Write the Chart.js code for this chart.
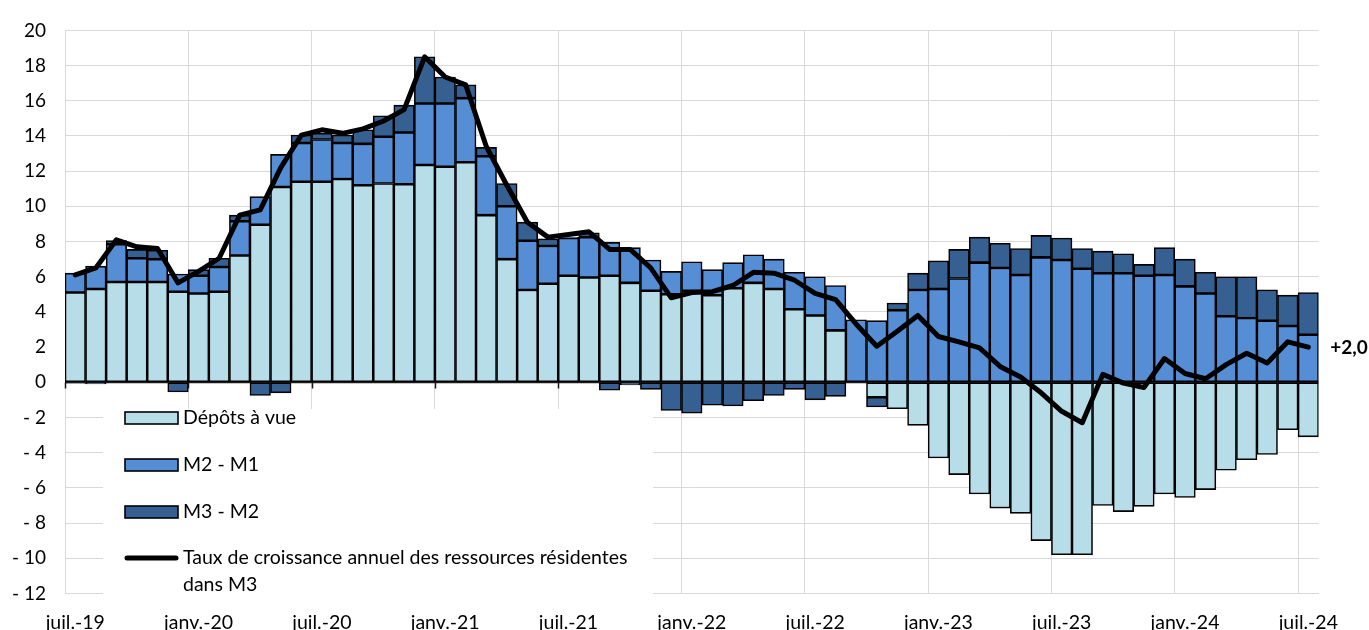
<!DOCTYPE html>
<html>
<head>
<meta charset="utf-8">
<script src="https://cdn.jsdelivr.net/npm/chart.js@4/dist/chart.umd.min.js"></script>
<style>
  html, body { margin: 0; padding: 0; background: #fff; }
  #wrap { width: 1369px; height: 630px; }
</style>
</head>
<body>
<div id="wrap"><canvas id="c" width="1369" height="630"></canvas></div>
<script>
const categories = [
  'juil.-19','août-19','sept.-19','oct.-19','nov.-19','déc.-19',
  'janv.-20','févr.-20','mars-20','avr.-20','mai-20','juin-20',
  'juil.-20','août-20','sept.-20','oct.-20','nov.-20','déc.-20',
  'janv.-21','févr.-21','mars-21','avr.-21','mai-21','juin-21',
  'juil.-21','août-21','sept.-21','oct.-21','nov.-21','déc.-21',
  'janv.-22','févr.-22','mars-22','avr.-22','mai-22','juin-22',
  'juil.-22','août-22','sept.-22','oct.-22','nov.-22','déc.-22',
  'janv.-23','févr.-23','mars-23','avr.-23','mai-23','juin-23',
  'juil.-23','août-23','sept.-23','oct.-23','nov.-23','déc.-23',
  'janv.-24','févr.-24','mars-24','avr.-24','mai-24','juin-24',
  'juil.-24'
];
const tickLabels = ['juil.-19','janv.-20','juil.-20','janv.-21','juil.-21','janv.-22','juil.-22','janv.-23','juil.-23','janv.-24','juil.-24'];

const seriesNames = ['Dépôts à vue', 'M2 - M1', 'M3 - M2', 'Taux de croissance annuel des ressources résidentes dans M3'];

const depotsAVue = [
  5.1, 5.3, 5.7, 5.7, 5.7, 5.15,
  5.05, 5.15, 7.2, 8.95, 11.1, 11.4,
  11.4, 11.55, 11.2, 11.3, 11.25, 12.35,
  12.25, 12.5, 9.5, 7.0, 5.25, 5.6,
  6.05, 5.95, 6.05, 5.65, 5.2, 5.0,
  5.2, 4.95, 5.35, 5.65, 5.3, 4.15,
  3.8, 2.95, 0, -0.85, -1.5, -2.45,
  -4.3, -5.25, -6.35, -7.15, -7.45, -9.0,
  -9.8, -9.8, -7.0, -7.35, -7.05, -6.35,
  -6.55, -6.1, -5.0, -4.4, -4.1, -2.7,
  -3.1
];
const m2MoinsM1 = [
  1.1, 1.3, 2.15, 1.35, 1.3, 1.0,
  1.0, 1.4, 1.95, 1.6, 1.85, 2.2,
  2.4, 2.05, 2.35, 2.65, 2.95, 3.5,
  3.6, 3.65, 3.35, 3.0, 2.8, 2.15,
  2.15, 2.3, 1.9, 2.0, 1.75, 1.3,
  1.65, 1.45, 1.45, 1.6, 1.7, 2.1,
  2.2, 2.55, 3.55, 3.5, 4.1, 5.25,
  5.3, 5.9, 6.8, 6.5, 6.1, 7.1,
  6.95, 6.45, 6.2, 6.2, 6.05, 6.1,
  5.45, 5.05, 3.75, 3.65, 3.5, 3.2,
  2.7
];
const m3MoinsM2 = [
  -0.05, -0.1, 0.2, 0.5, 0.5, -0.55,
  0.35, 0.5, 0.35, -0.75, -0.6, 0.45,
  0.35, 0.45, 0.8, 1.2, 1.55, 2.65,
  1.5, 0.75, 0.5, 1.3, 1.05, 0.4,
  0.05, 0.25, -0.45, -0.15, -0.4, -1.6,
  -1.75, -1.3, -1.35, -1.05, -0.75, -0.4,
  -1.0, -0.8, 0, -0.55, 0.4, 0.95,
  1.6, 1.65, 1.45, 1.4, 1.5, 1.25,
  1.25, 1.15, 1.25, 1.1, 0.65, 1.55,
  1.55, 1.2, 2.25, 2.35, 1.75, 1.75,
  2.4
];
const tauxCroissance = [
  6.1, 6.5, 8.1, 7.7, 7.6, 5.65,
  6.3, 7.05, 9.5, 9.8, 12.2, 14.05,
  14.35, 14.15, 14.4, 14.85, 15.5, 18.5,
  17.35, 16.9, 13.4, 11.2, 9.1, 8.25,
  8.4, 8.55, 7.55, 7.55, 6.5, 4.8,
  5.1, 5.15, 5.5, 6.25, 6.2, 5.8,
  5.05, 4.7, 3.3, 2.05, 2.9, 3.8,
  2.6, 2.3, 1.95, 0.9, 0.3, -0.6,
  -1.65, -2.3, 0.45, -0.05, -0.3, 1.35,
  0.5, 0.2, 1.0, 1.65, 1.1, 2.3,
  2.0
];

const FONT = 'Lato, "Open Sans", sans-serif';
const GRID = '#d9d9d9';

const zeroAxisPlugin = {
  id: 'zeroAxis',
  beforeDatasetsDraw(chart) {
    const { ctx, chartArea, scales } = chart;
    const y0 = Math.round(scales.y.getPixelForValue(0)) + 0.5;
    ctx.save();
    ctx.strokeStyle = '#1a1a1a';
    ctx.lineWidth = 1.5;
    ctx.beginPath();
    ctx.moveTo(chartArea.left, y0);
    ctx.lineTo(chartArea.right, y0);
    const xs = scales.x;
    const half = (xs.getPixelForTick(1) - xs.getPixelForTick(0)) / 2;
    for (let i = 0; i < categories.length; i++) {
      if (tickLabels.includes(categories[i])) {
        const px = Math.round(xs.getPixelForTick(i) - half) + 0.5;
        ctx.moveTo(px, y0);
        ctx.lineTo(px, y0 + 6);
      }
    }
    ctx.stroke();
    ctx.restore();
  }
};

const endLabelPlugin = {
  id: 'endLabel',
  afterDatasetsDraw(chart) {
    const { ctx } = chart;
    const meta = chart.getDatasetMeta(3);
    const last = meta.data[meta.data.length - 1];
    const v = tauxCroissance[tauxCroissance.length - 1];
    const txt = (v >= 0 ? '+' : '-') + Math.abs(v).toFixed(1).replace('.', ',');
    ctx.save();
    ctx.font = 'bold 19px ' + FONT;
    ctx.fillStyle = '#000';
    ctx.textAlign = 'left';
    ctx.textBaseline = 'middle';
    ctx.fillText(txt, last.x + 22, last.y + 1);
    ctx.restore();
  }
};

const floatLegendPlugin = {
  id: 'floatLegend',
  afterDraw(chart) {
    const { ctx } = chart;
    const ds = chart.data.datasets;
    ctx.save();
    ctx.fillStyle = '#ffffff';
    ctx.fillRect(103, 409, 550, 188);
    const sx = 125, sw = 53, sh = 12, tx = 183;
    const rows = [418, 465, 512, 558];
    ctx.font = '19.5px ' + FONT;
    ctx.textBaseline = 'middle';
    ctx.textAlign = 'left';
    for (let i = 0; i < 3; i++) {
      ctx.fillStyle = ds[i].backgroundColor;
      ctx.fillRect(sx, rows[i] - sh / 2, sw, sh);
      ctx.strokeStyle = '#000';
      ctx.lineWidth = 1.6;
      ctx.strokeRect(sx, rows[i] - sh / 2, sw, sh);
      ctx.fillStyle = '#000';
      ctx.fillText(ds[i].label, tx, rows[i]);
    }
    ctx.strokeStyle = '#000';
    ctx.lineWidth = 5;
    ctx.lineCap = 'round';
    ctx.beginPath();
    ctx.moveTo(sx + 2, rows[3]);
    ctx.lineTo(sx + sw - 2, rows[3]);
    ctx.stroke();
    ctx.fillStyle = '#000';
    ctx.fillText('Taux de croissance annuel des ressources résidentes', tx, rows[3]);
    ctx.fillText('dans M3', tx, rows[3] + 27);
    ctx.restore();
  }
};

const barCommon = {
  type: 'bar',
  borderColor: '#000',
  borderWidth: 1.6,
  borderSkipped: false,
  barPercentage: 1.0,
  categoryPercentage: 1.0,
  stack: 'bars',
  order: 2
};

new Chart(document.getElementById('c'), {
  data: {
    labels: categories,
    datasets: [
      Object.assign({}, barCommon, { label: seriesNames[0], data: depotsAVue, backgroundColor: '#B7DEE8' }),
      Object.assign({}, barCommon, { label: seriesNames[1], data: m2MoinsM1, backgroundColor: '#558ED5' }),
      Object.assign({}, barCommon, { label: seriesNames[2], data: m3MoinsM2, backgroundColor: '#376092' }),
      {
        type: 'line',
        label: seriesNames[3],
        data: tauxCroissance,
        borderColor: '#000',
        borderWidth: 5,
        pointRadius: 0,
        tension: 0,
        borderJoinStyle: 'round',
        borderCapStyle: 'round',
        stack: 'line',
        order: 0
      }
    ]
  },
  options: {
    responsive: false,
    animation: false,
    devicePixelRatio: 1,
    layout: { padding: { left: 0, right: 50.4, top: 21.7, bottom: 0 } },
    plugins: { legend: { display: false }, tooltip: { enabled: false } },
    scales: {
      x: {
        stacked: true,
        offset: true,
        afterFit(s) { s.height = 36.6; },
        grid: {
          offset: true,
          drawTicks: false,
          lineWidth: 1,
          color: (c) => (c.index % 6 === 0 && c.index > 0 && c.index < categories.length) ? GRID : 'rgba(0,0,0,0)'
        },
        border: { display: true, color: GRID, width: 1 },
        ticks: {
          autoSkip: false,
          maxRotation: 0,
          minRotation: 0,
          padding: 18,
          color: '#000',
          font: { family: FONT, size: 19.5 },
          callback(v, i) { const l = categories[i]; return tickLabels.includes(l) ? l : ''; }
        }
      },
      y: {
        stacked: true,
        min: -12,
        max: 20,
        afterFit(s) { s.width = 65; },
        grid: { color: GRID, lineWidth: 1, drawTicks: false },
        border: { display: true, color: GRID, width: 1 },
        ticks: {
          stepSize: 2,
          padding: 19,
          color: '#000',
          font: { family: FONT, size: 19 },
          callback(v) { return v < 0 ? '- ' + Math.abs(v) : String(v); }
        }
      }
    }
  },
  plugins: [zeroAxisPlugin, endLabelPlugin, floatLegendPlugin]
});
</script>
</body>
</html>
